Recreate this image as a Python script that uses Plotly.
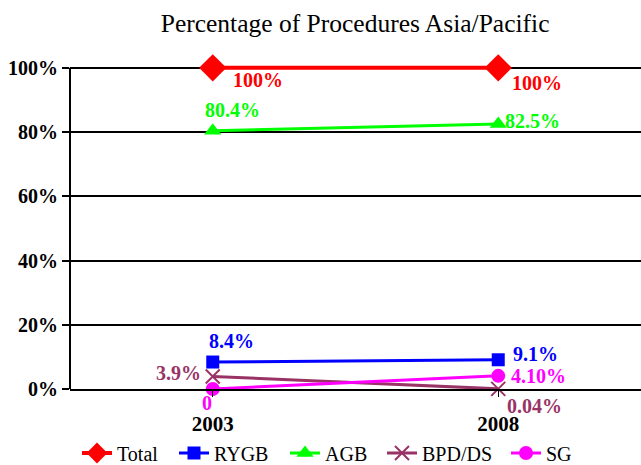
import plotly.graph_objects as go

years = ["2003", "2008"]
series_names = ["Total", "RYGB", "AGB", "BPD/DS", "SG"]
total = [100, 100]
rygb = [8.4, 9.1]
agb = [80.4, 82.5]
bpdds = [3.9, 0.04]
sg = [0, 4.1]
label_total = ["100%", "100%"]
label_rygb = ["8.4%", "9.1%"]
label_agb = ["80.4%", "82.5%"]
label_bpdds = ["3.9%", "0.04%"]
label_sg = ["0", "4.10%"]
y_ticks = [0, 20, 40, 60, 80, 100]
y_tick_labels = ["0%", "20%", "40%", "60%", "80%", "100%"]

colors = ["#FF0000", "#0000FF", "#00FF00", "#993366", "#FF00FF"]
symbols = ["diamond", "square", "triangle-up", "x-thin-open", "circle"]
sizes = [21, 13, 15, 14, 14]
widths = [4, 3, 3, 3, 3]
values = [total, rygb, agb, bpdds, sg]
labels = [label_total, label_rygb, label_agb, label_bpdds, label_sg]
# label offsets in pixels (xshift, yshift) per point
shifts = [
    [(45, -12), (39, -15)],
    [(19, 21), (37, 6)],
    [(20, 21), (34, 3)],
    [(-34, 3), (36, -17)],
    [(-6, -14), (40, 0)],
]
# legend entry left edges (pixels in the 641px wide canvas)
legend_left = [78, 175, 286, 383, 507]

FONT = "Liberation Serif, Times New Roman, serif"
fig = go.Figure()
xs = [0, 1]
legend_ids = ["legend"] + [f"legend{i}" for i in range(2, 6)]
for name, vals, col, sym, sz, w, lid in zip(series_names, values, colors, symbols, sizes, widths, legend_ids):
    mk = dict(symbol=sym, size=sz, color=col)
    if sym == "x-thin-open":
        mk["line"] = dict(color=col, width=2)
    fig.add_trace(go.Scatter(
        x=xs, y=vals, name=name, mode="lines+markers",
        line=dict(color=col, width=w), marker=mk, cliponaxis=False, legend=lid,
    ))

annotations = []
for vals, labs, col, sh in zip(values, labels, colors, shifts):
    for i in range(2):
        annotations.append(dict(
            x=xs[i], y=vals[i], xref="x", yref="y", text=labs[i], showarrow=False,
            xshift=sh[i][0], yshift=sh[i][1],
            font=dict(family=FONT, size=20, color=col, weight="bold"),
        ))

legend_common = dict(orientation="h", xref="container", yref="container",
                     xanchor="left", y=1 - 453 / 465, yanchor="middle",
                     font=dict(family=FONT, size=20, color="black"),
                     bgcolor="rgba(0,0,0,0)", borderwidth=0)
legends = {}
for lid, left in zip(legend_ids, legend_left):
    legends[lid] = dict(legend_common, x=(left - 1) / 641)

fig.update_layout(
    width=641, height=465,
    margin=dict(l=70, r=0, t=63, b=76),
    paper_bgcolor="white", plot_bgcolor="white",
    title=dict(text="Percentage of Procedures Asia/Pacific", x=0.554, xanchor="center",
               xref="container", y=1 - 23 / 465, yanchor="middle",
               font=dict(family=FONT, size=25.5, color="black")),
    font=dict(family=FONT, color="black"),
    showlegend=True,
    annotations=annotations,
    shapes=[dict(type="line", xref="paper", yref="y", x0=0, x1=0, y0=0, y1=100,
                 line=dict(color="black", width=2))],
    xaxis=dict(range=[-0.5, 1.5], tickmode="array", tickvals=xs, ticktext=years,
               showgrid=False, showline=True, linecolor="black", linewidth=2,
               ticks="outside", tickson="boundaries", ticklen=6, tickcolor="black",
               ticklabelstandoff=9,
               tickfont=dict(family=FONT, size=21, color="black", weight="bold"),
               zeroline=False, fixedrange=True, automargin=False),
    yaxis=dict(range=[0, 101.5], tickmode="array", tickvals=y_ticks, ticktext=y_tick_labels,
               showgrid=True, gridcolor="black", gridwidth=2, showline=False,
               ticks="outside", ticklen=7, tickcolor="black", tickwidth=2,
               tickfont=dict(family=FONT, size=20, color="black", weight="bold"),
               zeroline=False, fixedrange=True, automargin=False),
    **legends,
)

fig.write_html("out.html", config={"displayModeBar": False},
               post_script="document.body.style.margin='0px';")
